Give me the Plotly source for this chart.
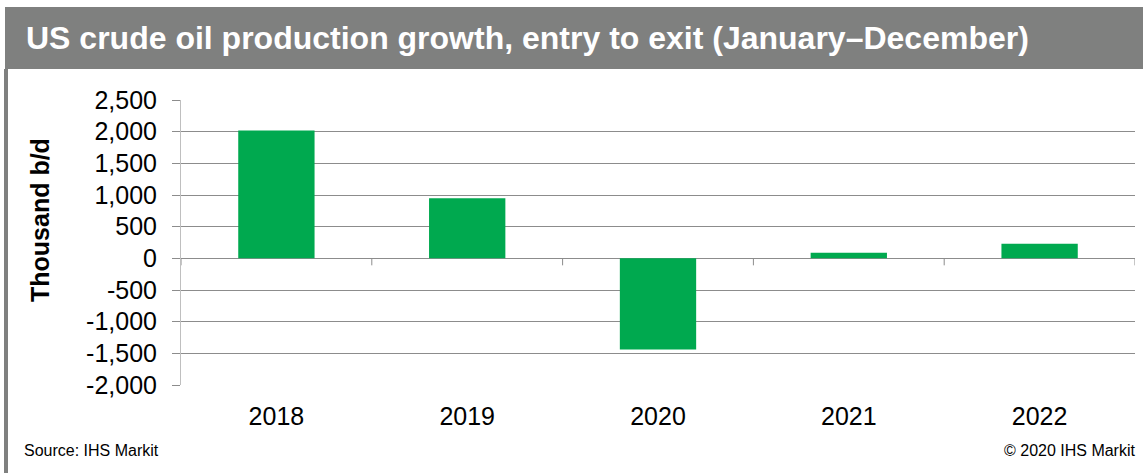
import plotly.graph_objects as go

# Entry-to-exit growth in US crude oil production, thousand barrels per day
years = ["2018", "2019", "2020", "2021", "2022"]
growth = [2020, 950, -1440, 90, 230]

y_ticks = [-2000, -1500, -1000, -500, 0, 500, 1000, 1500, 2000, 2500]
y_tick_text = ["-2,000", "-1,500", "-1,000", "-500", "0", "500",
               "1,000", "1,500", "2,000", "2,500"]

title_text = "US crude oil production growth, entry to exit (January\u2013December)"
y_title = "Thousand b/d"
source_text = "Source: IHS Markit"
copyright_text = "\u00a9 2020 IHS Markit"

W, H = 1143, 473
L, R, T, B = 181, 8, 100, 88
plot_w = W - L - R
plot_h = H - T - B

FONT = "Arial, Liberation Sans, sans-serif"
GREEN = "#00a94f"
FRAME = "#7f807f"
GRID = "#8c8c8c"
AXIS = "#bfbfbf"

fig = go.Figure()
fig.add_trace(go.Bar(
    x=years, y=growth,
    marker=dict(color=GREEN, line=dict(width=0)),
    width=0.4,
    hoverinfo="skip",
))

def px_x(p):
    return (p - L) / plot_w

def px_y(p):
    return (H - B - p) / plot_h

shapes = [
    # header band
    dict(type="rect", xref="paper", yref="paper",
         x0=px_x(5), x1=px_x(W), y0=px_y(69), y1=px_y(7),
         fillcolor=FRAME, line=dict(width=0), layer="below"),
    # left frame edge
    dict(type="rect", xref="paper", yref="paper",
         x0=px_x(4), x1=px_x(8), y0=px_y(H), y1=px_y(69),
         fillcolor=FRAME, line=dict(width=0), layer="below"),
]
# category divider ticks hanging below the zero line
for i in range(len(years) + 1):
    shapes.append(dict(
        type="line", xref="x", yref="y", ysizemode="pixel", yanchor=0,
        x0=i - 0.5, x1=i - 0.5, y0=0, y1=-7,
        line=dict(color=GRID, width=1),
    ))

annotations = [
    dict(text=f"<b>{title_text}</b>", xref="paper", yref="paper",
         x=px_x(24), y=px_y(38), xanchor="left", yanchor="middle",
         showarrow=False, font=dict(family=FONT, size=32, color="white")),
    dict(text=f"<b>{y_title}</b>", xref="paper", yref="paper",
         x=px_x(40), y=px_y(220), xanchor="center", yanchor="middle",
         textangle=-90, showarrow=False,
         font=dict(family=FONT, size=25, color="black")),
    dict(text=source_text, xref="paper", yref="paper",
         x=px_x(22), y=px_y(450), xanchor="left", yanchor="middle",
         showarrow=False, font=dict(family=FONT, size=16, color="black")),
    dict(text=copyright_text, xref="paper", yref="paper",
         x=px_x(1138), y=px_y(450), xanchor="right", yanchor="middle",
         showarrow=False, font=dict(family=FONT, size=16, color="black")),
]

fig.update_layout(
    width=W, height=H,
    margin=dict(l=L, r=R, t=T, b=B, pad=0),
    paper_bgcolor="white", plot_bgcolor="white",
    showlegend=False,
    font=dict(family=FONT, size=24, color="black"),
    shapes=shapes,
    annotations=annotations,
    xaxis=dict(
        type="category", showgrid=False, showline=False, zeroline=False,
        ticks="", ticklabelstandoff=14,
        tickfont=dict(family=FONT, size=25, color="black"),
        range=[-0.5, len(years) - 0.5],
    ),
    yaxis=dict(
        range=[-2000, 2500], tickvals=y_ticks, ticktext=y_tick_text,
        showgrid=True, gridcolor=GRID, gridwidth=1,
        zeroline=True, zerolinecolor=GRID, zerolinewidth=1,
        showline=True, linecolor=AXIS, linewidth=1,
        ticks="outside", ticklen=8, tickcolor=GRID,
        ticklabelstandoff=10,
        tickfont=dict(family=FONT, size=25, color="black"),
    ),
)

fig.write_html("out.html")
